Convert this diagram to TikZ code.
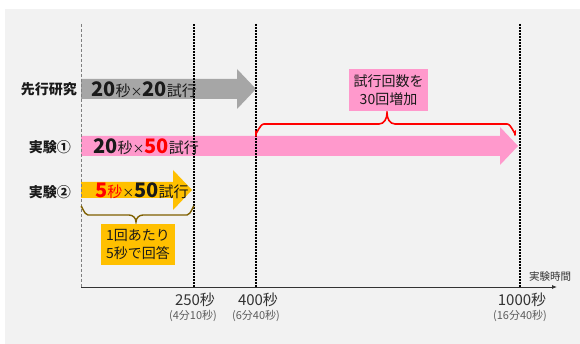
\documentclass[tikz,border=0pt]{standalone}
\usepackage{fontspec}
\setmainfont{Noto Sans CJK JP}
\usetikzlibrary{arrows.meta}
\definecolor{bgc}{HTML}{F2F2F2}
\definecolor{grayarrow}{HTML}{A6A6A6}
\definecolor{pinkc}{HTML}{FF99CC}
\definecolor{orangec}{HTML}{FFC000}
\definecolor{olivec}{HTML}{7F6000}
\definecolor{redc}{HTML}{FF0000}
\definecolor{txtc}{HTML}{1A1A1A}
\definecolor{ticktxt}{HTML}{333333}
\newcommand{\bignum}[1]{{\fontsize{20}{20}\selectfont\bfseries #1}}
\newcommand{\jpch}[1]{{\fontsize{15}{15}\selectfont #1}}
\newcommand{\tms}{{\fontsize{12}{12}\selectfont ×}}
\begin{document}
\begin{tikzpicture}[x=1pt,y=-1pt,
  rowlabel/.style={font=\fontsize{14}{14}\selectfont\bfseries, text=txtc, inner sep=0pt},
  arrowtxt/.style={anchor=west, text=txtc, inner sep=0pt},
  timeline/.style={black, line width=1.6pt, dash pattern=on 1.6pt off 1.4pt},
  ticklab/.style={font=\fontsize{15}{15}\selectfont, text=ticktxt, inner sep=0pt},
  ticksub/.style={font=\fontsize{11}{11}\selectfont, text=ticktxt!80, inner sep=0pt},
  notebox/.style={font=\fontsize{14}{18}\selectfont, text=txtc, align=center, inner sep=0pt, minimum width=#1}
]
\useasboundingbox (0,0) rectangle (580,344);
\fill[bgc] (5,9) rectangle (580,344);

% time coordinates
\coordinate (t0top) at (81,24);
\coordinate (t0bot) at (81,287);
\coordinate (t250top) at (194,24);
\coordinate (t250bot) at (194,287);
\coordinate (t400top) at (256,24);
\coordinate (t400bot) at (256,287);
\coordinate (t1000top) at (520,24);
\coordinate (t1000bot) at (520,287);
\coordinate (axend) at (557,287);

% arrows (shapes)
\fill[grayarrow] (81,79) -- (237,79) -- (237,69) -- (256,89) -- (237,109) -- (237,99) -- (81,99) -- cycle;
\fill[pinkc] (81,136) -- (500,136) -- (500,127) -- (518,146) -- (500,165) -- (500,156) -- (81,156) -- cycle;
\fill[orangec] (81,182) -- (173,182) -- (173,170) -- (192,190) -- (173,210) -- (173,198) -- (81,198) -- cycle;

% vertical lines
\draw[gray, line width=0.6pt, dash pattern=on 3pt off 2pt] (t0top) -- (t0bot);
\draw[timeline] (t250top) -- (t250bot);
\draw[timeline] (t400top) -- (t400bot);
\draw[timeline] (t1000top) -- (t1000bot);

% axis
\draw[ticktxt, line width=0.8pt, -{Latex[length=5pt,width=4pt]}] (t0bot) -- (axend);

% row labels
\node[rowlabel, anchor=east] (lprev) at (77,89) {先行研究};
\node[rowlabel, anchor=east] (lexp1) at (71,147) {実験①};
\node[rowlabel, anchor=east] (lexp2) at (71,192) {実験②};

% arrow texts
\node[arrowtxt] (tprev) at (91,90) {\bignum{20}\jpch{秒}\tms\bignum{20}\jpch{試行}};
\node[arrowtxt] (texp1) at (93,147) {\bignum{20}\jpch{秒}\tms{\color{redc}\bignum{50}}\jpch{試行}};
\node[arrowtxt] (texp2) at (95,191) {{\color{redc}\bignum{5}\jpch{秒}}\tms\bignum{50}\jpch{試行}};

% red brace
\draw[redc, line width=1.6pt, line cap=round]
  (256,136) -- (256,132) to[out=-90,in=180] (264,124) -- (379,124)
  to[out=0,in=-90] (387,113) to[out=-90,in=180] (395,124) -- (507,124)
  to[out=0,in=-90] (515,132) -- (515,135);
\node[notebox=79pt, fill=pinkc, minimum height=42pt] (note1) at (388.5,90) {試行回数を\\30回増加};

% olive brace
\draw[olivec, line width=1.4pt, line cap=round]
  (81,207) to[out=90,in=180] (88,215) -- (129,215)
  to[out=0,in=90] (136,222) to[out=90,in=180] (143,215) -- (187,215)
  to[out=0,in=90] (194,207);
\node[notebox=74pt, fill=orangec, minimum height=41pt] (note2) at (138,244.5) {1回あたり\\5秒で回答};

% tick labels
\node[ticklab] (l250) at (195,300) {250秒};
\node[ticksub] (s250) at (193,316) {(4分10秒)};
\node[ticklab] (l400) at (258,300) {400秒};
\node[ticksub] (s400) at (256,316) {(6分40秒)};
\node[ticklab] (l1000) at (522,300) {1000秒};
\node[ticksub] (s1000) at (520,316) {(16分40秒)};
\node[font=\fontsize{10.5}{10.5}\selectfont, text=ticktxt, inner sep=0pt] (axlab) at (550,277) {実験時間};
\end{tikzpicture}
\end{document}
